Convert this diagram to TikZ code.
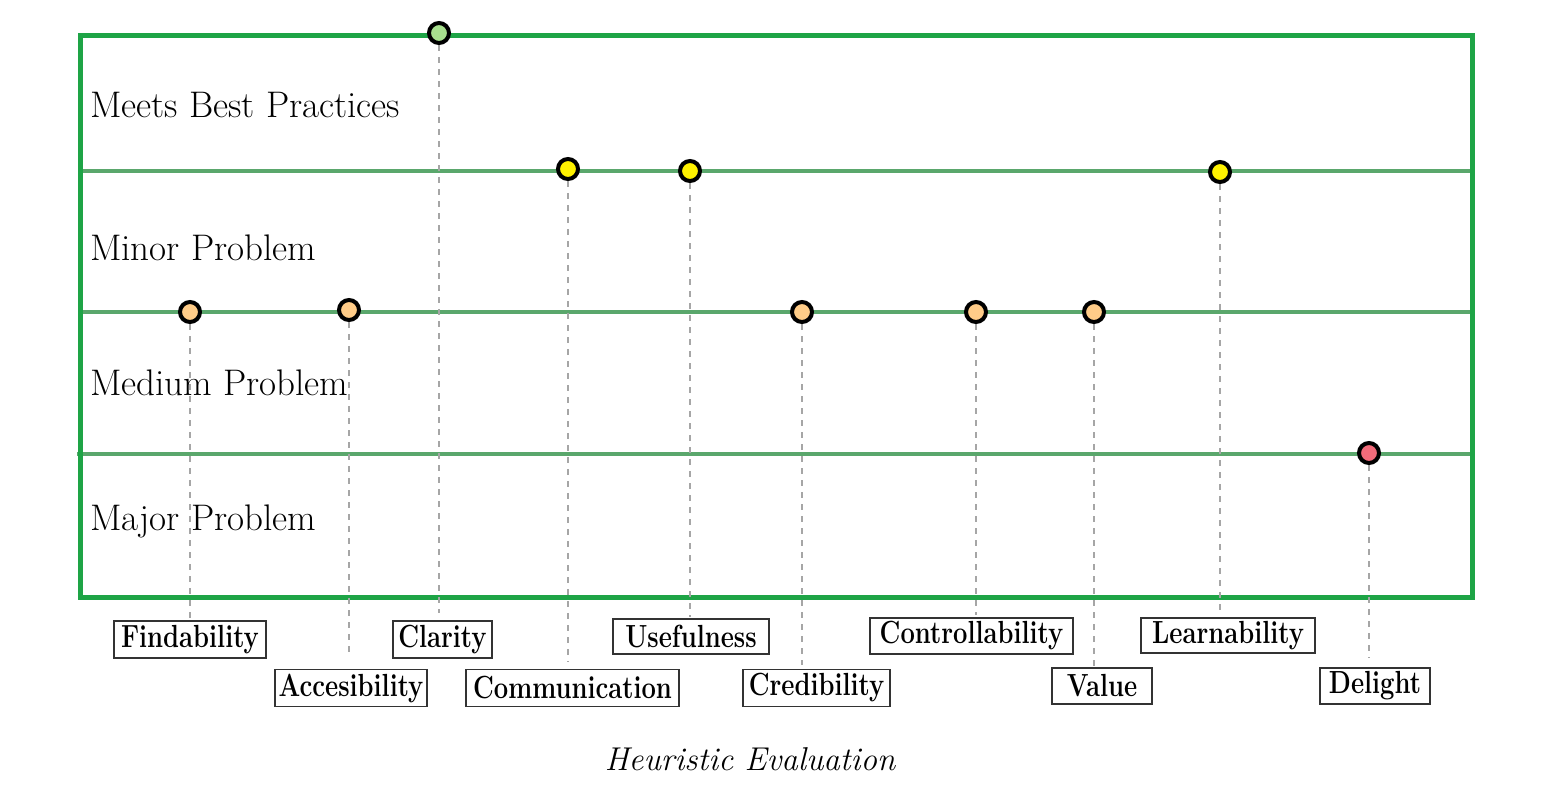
\documentclass[tikz,border=0pt]{standalone}
\usepackage{fontspec}
\definecolor{frameg}{HTML}{1EA446}
\definecolor{lineg}{HTML}{5AA76C}
\definecolor{dotgreen}{HTML}{A8E08E}
\definecolor{dotyellow}{HTML}{FFF200}
\definecolor{dotorange}{HTML}{FFCC88}
\definecolor{dotred}{HTML}{F26B7A}
\newcommand\narrowtxt[1]{\scalebox{0.8}[1]{#1}}
\begin{document}
\begin{tikzpicture}[x=1pt,y=-1pt,
  dot/.style={circle, draw=black, line width=4pt, minimum size=20pt, inner sep=0pt},
  lbl/.style={draw=black!80, line width=1.2pt, minimum height=37pt, inner sep=0pt,
    font=\bfseries\fontsize{32}{34}\selectfont},
  guide/.style={draw=black!35, dash pattern=on 6pt off 6pt, line width=1.5pt},
  rowlbl/.style={anchor=base west, inner sep=0pt, font=\fontsize{37}{44}\selectfont},
  band/.style={draw=lineg, line width=4pt},
  frm/.style={draw=frameg, line width=5pt}]
\useasboundingbox (0,0) rectangle (1543,793);

% band lines
\coordinate (b1l) at (80,171); \coordinate (b1r) at (1472,171);
\coordinate (b2l) at (80,312); \coordinate (b2r) at (1472,312);
\coordinate (b3l) at (77,454); \coordinate (b3r) at (1472,454);
\draw[band] (b1l) -- (b1r);
\draw[band] (b2l) -- (b2r);
\draw[band] (b3l) -- (b3r);

% frame
\coordinate (ftl) at (80,35); \coordinate (fbr) at (1472,597);
\draw[frm] (ftl) rectangle (fbr);

% row labels
\node[rowlbl] (r1) at (90,117) {Meets Best Practices};
\node[rowlbl] (r2) at (90,260) {Minor Problem};
\node[rowlbl] (r3) at (90,395) {Medium Problem};
\node[rowlbl] (r4) at (90,530) {Major Problem};

% dot positions
\coordinate (dFin) at (190,312);
\coordinate (dAcc) at (349,310);
\coordinate (dCla) at (439,33);
\coordinate (dCom) at (568,169);
\coordinate (dUse) at (690,171);
\coordinate (dCre) at (802,312);
\coordinate (dCon) at (976,312);
\coordinate (dVal) at (1094,312);
\coordinate (dLea) at (1220,172);
\coordinate (dDel) at (1369,453);

% guide ends
\coordinate (eFin) at (190,618);
\coordinate (eAcc) at (349,652);
\coordinate (eCla) at (439,613);
\coordinate (eCom) at (568,662);
\coordinate (eUse) at (690,617);
\coordinate (eCre) at (802,665);
\coordinate (eCon) at (976,615);
\coordinate (eVal) at (1094,667);
\coordinate (eLea) at (1220,613);
\coordinate (eDel) at (1369,658);

\foreach \n in {Fin,Acc,Cla,Com,Use,Cre,Con,Val,Lea,Del}
  \draw[guide] (d\n) -- (e\n);

\node[dot, fill=dotorange] (pFin) at (dFin) {};
\node[dot, fill=dotorange] (pAcc) at (dAcc) {};
\node[dot, fill=dotgreen]  (pCla) at (dCla) {};
\node[dot, fill=dotyellow] (pCom) at (dCom) {};
\node[dot, fill=dotyellow] (pUse) at (dUse) {};
\node[dot, fill=dotorange] (pCre) at (dCre) {};
\node[dot, fill=dotorange] (pCon) at (dCon) {};
\node[dot, fill=dotorange] (pVal) at (dVal) {};
\node[dot, fill=dotyellow] (pLea) at (dLea) {};
\node[dot, fill=dotred]    (pDel) at (dDel) {};

% labels
\node[lbl, minimum width=152pt] (lFin) at (190,639.5) {\narrowtxt{Findability}};
\node[lbl, minimum width=152pt] (lAcc) at (351,688) {\narrowtxt{Accesibility}};
\node[lbl, minimum width=99pt]  (lCla) at (442.5,639.5) {\narrowtxt{Clarity}};
\node[lbl, minimum width=213pt] (lCom) at (572.5,688) {\narrowtxt{Communication}};
\node[lbl, minimum width=156pt, minimum height=35pt] (lUse) at (691,636.5) {\narrowtxt{Usefulness}};
\node[lbl, minimum width=147pt] (lCre) at (816.5,688) {\narrowtxt{Credibility}};
\node[lbl, minimum width=203pt, minimum height=36pt] (lCon) at (971.5,636) {\narrowtxt{Controllability}};
\node[lbl, minimum width=100pt, minimum height=36pt] (lVal) at (1102,686) {\narrowtxt{Value}};
\node[lbl, minimum width=174pt, minimum height=35pt] (lLea) at (1228,635.5) {\narrowtxt{Learnability}};
\node[lbl, minimum width=110pt, minimum height=36pt] (lDel) at (1375,686) {\narrowtxt{Delight}};

% title
\node[anchor=base, inner sep=0pt, font=\itshape\fontsize{33}{38}\selectfont] (title) at (750,770) {Heuristic Evaluation};
\end{tikzpicture}
\end{document}
